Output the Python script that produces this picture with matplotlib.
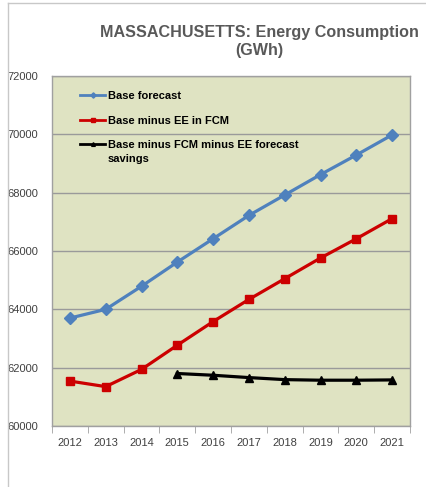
import numpy as np
import matplotlib.pyplot as plt
from matplotlib.lines import Line2D

plt.rcParams["font.family"] = ["Liberation Sans", "DejaVu Sans"]

years = ["2012", "2013", "2014", "2015", "2016", "2017", "2018", "2019", "2020", "2021"]
base = [63700, 64000, 64790, 65620, 66420, 67220, 67920, 68620, 69290, 69980]
base_minus_ee = [61540, 61350, 61940, 62770, 63580, 64340, 65050, 65760, 66420, 67110]
# third series starts in 2015
fcm_years = years[3:]
base_minus_fcm = [61800, 61740, 61660, 61590, 61570, 61570, 61580]

fig = plt.figure(figsize=(4.27, 4.87), dpi=100)
ax = fig.add_axes([52 / 427, 1 - 426 / 487, 358 / 427, 350 / 487])
ax.set_facecolor("#DFE3C2")

x = np.arange(len(years))
xf = np.arange(3, len(years))

ax.plot(x, base, color="#4F81BD", lw=2.3, marker="D", ms=6,
        label="Base forecast", zorder=3)
ax.plot(x, base_minus_ee, color="#CC0000", lw=2.3, marker="s", ms=6,
        label="Base minus EE in FCM", zorder=3)
ax.plot(xf, base_minus_fcm, color="black", lw=2.3, marker="^", ms=6,
        label="Base minus FCM minus EE forecast", zorder=3)

ax.set_xlim(-0.5, len(years) - 0.5)
ax.set_ylim(60000, 72000)
ax.set_yticks(np.arange(60000, 72001, 2000))
ax.yaxis.grid(True, color="#9A9A9A", lw=1)
ax.set_axisbelow(True)
ax.tick_params(axis="y", length=0, labelsize=8, colors="#404040", pad=10)

ax.set_xticks(x)
ax.set_xticklabels(years)
ax.set_xticks(np.arange(-0.5, len(years)), minor=True)
ax.tick_params(axis="x", which="major", length=0, labelsize=8,
               colors="#404040", pad=9)
ax.tick_params(axis="x", which="minor", length=5, color="#A0A0A0")

for s in ax.spines.values():
    s.set_color("#A0A0A0")
    s.set_linewidth(1)

leg = ax.legend(loc="upper left", bbox_to_anchor=(0.05, 0.985), frameon=False,
                handlelength=2.3, handletextpad=0.2, labelspacing=1.3,
                markerscale=0.45, prop={"weight": "bold", "size": 8})
for h in leg.legend_handles:
    h.set_linewidth(2)

# second line of the third legend label sits under the text, handle stays on line one
fig.canvas.draw()
bb = leg.get_texts()[2].get_window_extent()
fig.text(bb.x0 / 427, (bb.y0 - 14) / 487, "savings", fontsize=8,
         fontweight="bold", color="black", ha="left", va="bottom")

fig.text(0.608, 0.915, "MASSACHUSETTS: Energy Consumption\n(GWh)",
         ha="center", va="center", fontsize=11.6, fontweight="bold",
         color="#595959", linespacing=1.25)

# outer frame lines
fig.add_artist(Line2D([8 / 427, 1], [1 - 3 / 487, 1 - 3 / 487],
                      color="#C8C8C8", lw=1))
fig.add_artist(Line2D([8 / 427, 8 / 427], [0, 1 - 3 / 487],
                      color="#C8C8C8", lw=1))

fig.savefig("out.png", dpi=100)
